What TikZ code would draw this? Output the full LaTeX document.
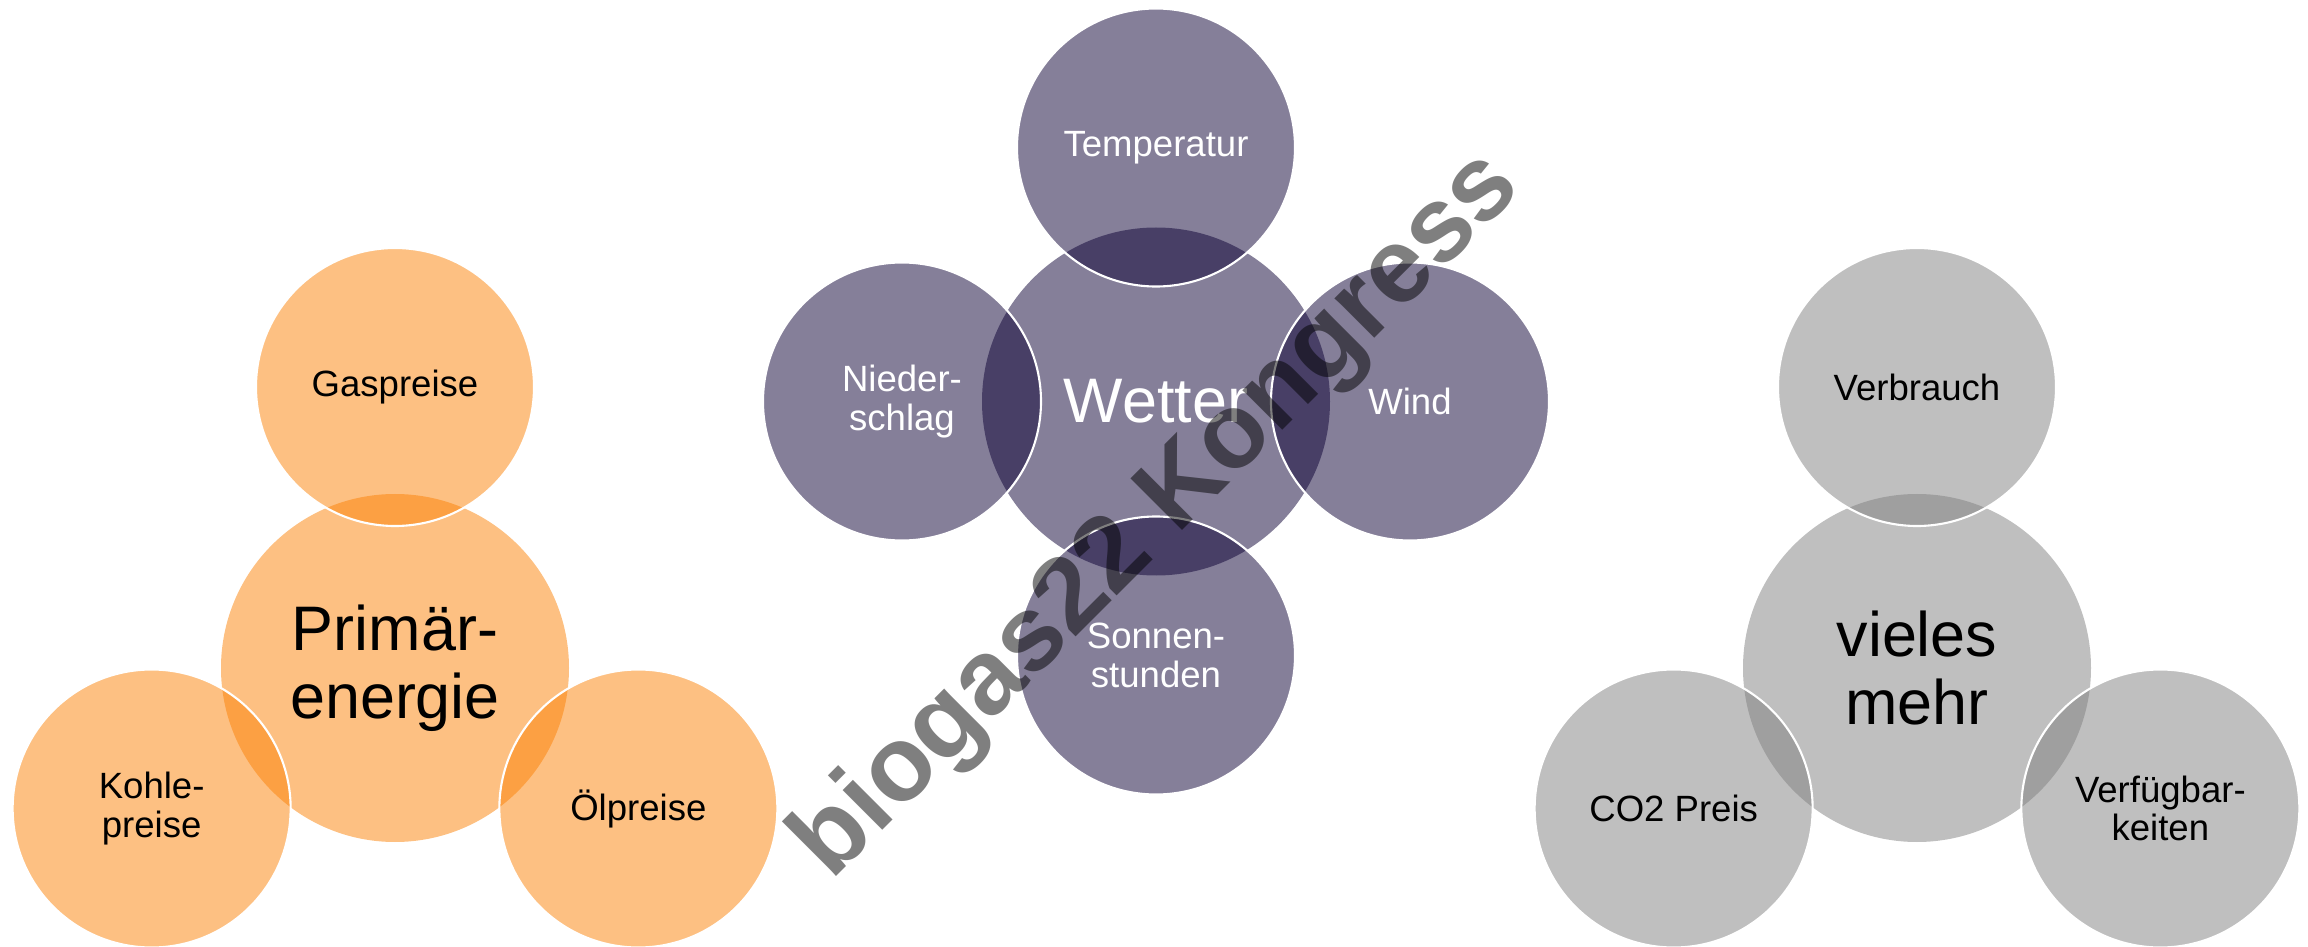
\documentclass[tikz,border=0pt]{standalone}
\usepackage{fontspec}
\setmainfont{Liberation Sans}
\usetikzlibrary{calc}

\definecolor{orangetone}{RGB}{251,129,5}
\definecolor{purpletone}{RGB}{12,0,52}
\definecolor{graytone}{RGB}{127,127,127}

\tikzset{
  hub/.style={circle, minimum size=3.48cm, inner sep=0pt, fill opacity=0.5, text opacity=1,
    align=center, font=\fontsize{17.9}{19.3}\selectfont},
  leaf/.style={circle, minimum size=2.78cm, inner sep=0pt, fill opacity=0.5, text opacity=1,
    draw=white, line width=0.6pt, align=center, font=\fontsize{10.4}{11}\selectfont},
}

\begin{document}
\begin{tikzpicture}
  \useasboundingbox (0,0) rectangle (23.08,-9.47);

  % Primaerenergie
  \node[hub, fill=orangetone] (prim) at (3.95,-6.68) {Primär-\\energie};
  \node[leaf, fill=orangetone] (gas) at ($(prim)+(90:2.81)$) {Gaspreise};
  \node[leaf, fill=orangetone] (kohle) at ($(prim)+(210:2.81)$) {Kohle-\\preise};
  \node[leaf, fill=orangetone] (oel) at ($(prim)+(330:2.81)$) {Ölpreise};

  % Wetter
  \node[hub, fill=purpletone, text=white] (wetter) at (11.56,-4.015) {Wetter};
  \node[leaf, fill=purpletone, text=white] (temp) at ($(wetter)+(90:2.54)$) {Temperatur};
  \node[leaf, fill=purpletone, text=white] (wind) at ($(wetter)+(0:2.54)$) {Wind};
  \node[leaf, fill=purpletone, text=white] (sonne) at ($(wetter)+(270:2.54)$) {Sonnen-\\stunden};
  \node[leaf, fill=purpletone, text=white] (regen) at ($(wetter)+(180:2.54)$) {Nieder-\\schlag};

  % vieles mehr
  \node[hub, fill=graytone] (mehr) at (19.17,-6.68) {vieles\\mehr};
  \node[leaf, fill=graytone] (verbrauch) at ($(mehr)+(90:2.81)$) {Verbrauch};
  \node[leaf, fill=graytone] (co2) at ($(mehr)+(210:2.81)$) {CO2 Preis};
  \node[leaf, fill=graytone] (verf) at ($(mehr)+(330:2.81)$) {Verfügbar-\\keiten};

  % Wasserzeichen
  \node[rotate=45, anchor=base, inner sep=0pt, text opacity=0.5,
    font=\bfseries\fontsize{30.2}{32}\selectfont] (wm) at (11.775,-5.355) {biogas22 Kongress};
\end{tikzpicture}
\end{document}
